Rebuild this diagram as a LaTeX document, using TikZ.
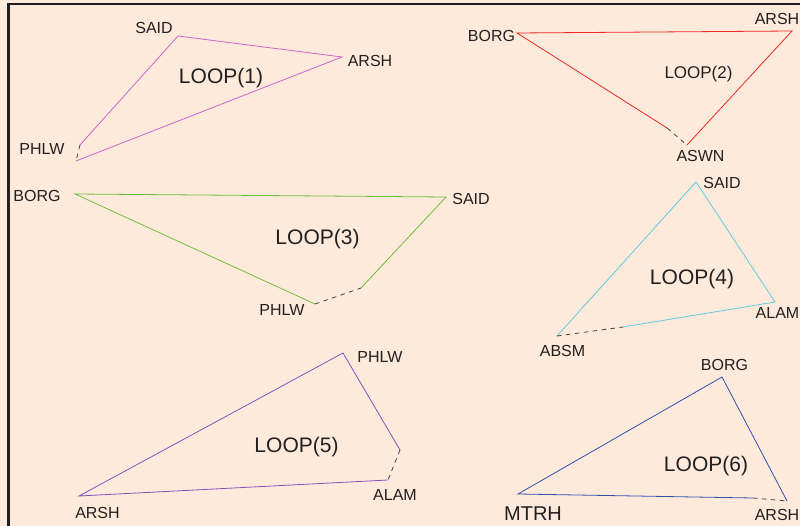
\documentclass[tikz,border=0pt]{standalone}
\usepackage{fontspec}
\setmainfont{Liberation Sans}
\definecolor{paper}{RGB}{253,234,218}
\definecolor{ink}{RGB}{35,31,32}
\definecolor{loopa}{RGB}{204,102,204}
\definecolor{loopb}{RGB}{236,40,40}
\definecolor{loopc}{RGB}{110,190,60}
\definecolor{loopd}{RGB}{100,200,220}
\definecolor{loope}{RGB}{136,80,190}
\definecolor{loopf}{RGB}{50,80,175}
\begin{document}
\begin{tikzpicture}[x=1pt,y=-1pt,
  lbl/.style={text=ink,font=\fontsize{16}{16}\selectfont,inner sep=0pt},
  title/.style={text=ink,font=\fontsize{21}{21}\selectfont,inner sep=0pt},
  edge/.style={line width=0.8pt},
  gap/.style={draw=ink!85,line width=0.8pt,dash pattern=on 4.5pt off 4.5pt}]
% page and frame
\fill[paper] (0,0) rectangle (800,526);
\useasboundingbox (0,0) rectangle (800,526);
\draw[ink,line width=3pt] (8.5,3) -- (8.5,526);
\draw[ink,line width=2pt] (7,4) -- (800,4);

% LOOP(1)
\coordinate (a1) at (178,36);
\coordinate (a2) at (342,57);
\coordinate (a3) at (76,161);
\coordinate (a4) at (80,145);
\draw[edge,loopa] (a4) -- (a1) -- (a2) -- (a3);
\draw[gap] (a4) -- (a3);
\node[lbl] (a1l) at (154,27.5) {SAID};
\node[lbl] (a2l) at (370,61) {ARSH};
\node[lbl] (a3l) at (42,149) {PHLW};
\node[title] (a0) at (221,78) {LOOP(1)};

% LOOP(2)
\coordinate (b1) at (517,33);
\coordinate (b2) at (792,31);
\coordinate (b3) at (687,145);
\coordinate (b4) at (667,128);
\draw[edge,loopb] (b4) -- (b1) -- (b2) -- (b3);
\draw[gap] (b4) -- (b3);
\node[lbl] (b1l) at (491.5,36) {BORG};
\node[lbl] (b2l) at (777,19) {ARSH};
\node[lbl] (b3l) at (700.5,156) {ASWN};
\node[text=ink,font=\fontsize{17}{17}\selectfont,inner sep=0pt] (b0) at (698.5,74) {LOOP(2)};

% LOOP(3)
\coordinate (c1) at (75,194);
\coordinate (c2) at (446,197);
\coordinate (c3) at (315,304);
\coordinate (c4) at (361,288);
\draw[edge,loopc] (c4) -- (c2) -- (c1) -- (c3);
\draw[gap] (c3) -- (c4);
\node[lbl] (c1l) at (37,196) {BORG};
\node[lbl] (c2l) at (471,199) {SAID};
\node[lbl] (c3l) at (282,309.5) {PHLW};
\node[title] (c0) at (317.5,239) {LOOP(3)};

% LOOP(4)
\coordinate (d1) at (696,182);
\coordinate (d2) at (775,302);
\coordinate (d3) at (557,336);
\coordinate (d4) at (623,327);
\draw[edge,loopd] (d4) -- (d2) -- (d1) -- (d3);
\draw[gap] (d3) -- (d4);
\node[lbl] (d1l) at (722,183) {SAID};
\node[lbl] (d2l) at (777.5,313) {ALAM};
\node[lbl] (d3l) at (562.5,351) {ABSM};
\node[title] (d0) at (692,279.5) {LOOP(4)};

% LOOP(5)
\coordinate (e1) at (343,353);
\coordinate (e2) at (79,496);
\coordinate (e3) at (388,480);
\coordinate (e4) at (400,450);
\draw[edge,loope] (e4) -- (e1) -- (e2) -- (e3);
\draw[gap] (e4) -- (e3);
\node[lbl] (e1l) at (380,357) {PHLW};
\node[lbl] (e2l) at (97.5,512.5) {ARSH};
\node[lbl] (e3l) at (395,494.5) {ALAM};
\node[title] (e0) at (296.5,447.5) {LOOP(5)};

% LOOP(6)
\coordinate (f1) at (722,377);
\coordinate (f2) at (518,494);
\coordinate (f3) at (787,501);
\coordinate (f4) at (753,498);
\draw[edge,loopf] (f4) -- (f2) -- (f1) -- (f3);
\draw[gap] (f4) -- (f3);
\node[lbl] (f1l) at (724.5,365) {BORG};
\node[text=ink,font=\fontsize{20}{20}\selectfont,inner sep=0pt] (f2l) at (533,513.5) {MTRH};
\node[lbl] (f3l) at (777,515) {ARSH};
\node[title] (f0) at (706,466.5) {LOOP(6)};
\end{tikzpicture}
\end{document}
